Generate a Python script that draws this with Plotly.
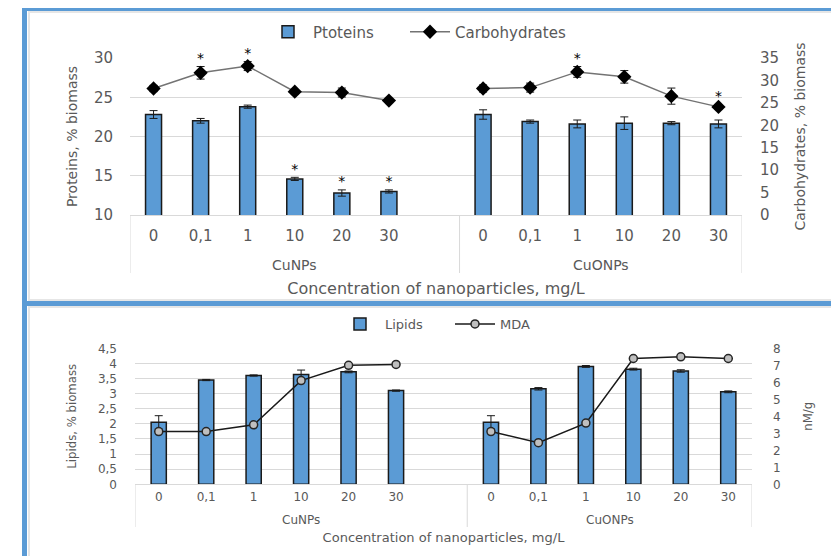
import plotly.graph_objects as go

# ---------------- data ----------------
conc_labels = ["0", "0,1", "1", "10", "20", "30"]
groups = ["CuNPs", "CuONPs"]

proteins_cunps = [22.8, 22.0, 23.8, 14.6, 12.8, 13.0]
proteins_cuonps = [22.8, 21.9, 21.6, 21.7, 21.7, 21.6]
proteins_err_cunps = [0.5, 0.3, 0.2, 0.2, 0.4, 0.2]
proteins_err_cuonps = [0.6, 0.2, 0.5, 0.8, 0.2, 0.5]
proteins_sig_cunps = ["", "", "", "*", "*", "*"]
proteins_sig_cuonps = ["", "", "", "", "", ""]

carbs_cunps = [28.2, 31.7, 33.2, 27.5, 27.3, 25.5]
carbs_cuonps = [28.2, 28.4, 31.9, 30.8, 26.5, 24.1]
carbs_err_cunps = [0.7, 1.4, 1.0, 0.5, 1.0, 0.3]
carbs_err_cuonps = [0.8, 1.0, 1.2, 1.4, 1.8, 0.5]
carbs_sig_cunps = ["", "*", "*", "", "", ""]
carbs_sig_cuonps = ["", "", "*", "", "", "*"]

lipids_cunps = [2.05, 3.45, 3.6, 3.63, 3.72, 3.1]
lipids_cuonps = [2.05, 3.16, 3.9, 3.81, 3.75, 3.06]
lipids_err_cunps = [0.22, 0.02, 0.02, 0.15, 0.03, 0.02]
lipids_err_cuonps = [0.22, 0.04, 0.03, 0.03, 0.04, 0.03]

mda_cunps = [3.1, 3.1, 3.5, 6.1, 7.0, 7.05]
mda_cuonps = [3.1, 2.45, 3.6, 7.4, 7.5, 7.4]

protein_ticks = [10, 15, 20, 25, 30]
carb_ticks = [0, 5, 10, 15, 20, 25, 30, 35]
lipid_tick_vals = [0, 0.5, 1, 1.5, 2, 2.5, 3, 3.5, 4, 4.5]
lipid_tick_text = ["0", "0,5", "1", "1,5", "2", "2,5", "3", "3,5", "4", "4,5"]
mda_ticks = [0, 1, 2, 3, 4, 5, 6, 7, 8]

# ---------------- helpers ----------------
# the page body has an 8px margin, so the figure is laid out in page pixels minus 8
OFF = 8
W, H = 839 - OFF, 556 - OFF
def px(x):
    return (x - OFF) / W
def py(y):
    return 1 - (y - OFF) / H

gap_key = groups[0] + "| "
keys_a = [groups[0] + "|" + c for c in conc_labels]
keys_b = [groups[1] + "|" + c for c in conc_labels]
keys = keys_a + [gap_key] + keys_b

def joined(a, b):
    return list(a) + [None] + list(b)

def plus(v, e):
    return [None if x is None else x + d for x, d in zip(v, e)]

GREY = "#595959"
GRID = "#d9d9d9"
BLUE = "#5b9bd5"
FONT = "DejaVu Sans"
NARROW = "Liberation Sans Narrow, DejaVu Sans Condensed, Arial Narrow, sans-serif"

fig = go.Figure()

# ---------------- top chart ----------------
fig.add_trace(go.Bar(
    x=keys, y=joined(proteins_cunps, proteins_cuonps), name="Ptoteins",
    width=0.34, marker=dict(color=BLUE, line=dict(color="#1a1a1a", width=1.5)),
    error_y=dict(type="data", array=joined(proteins_err_cunps, proteins_err_cuonps),
                 color="#1a1a1a", thickness=1, width=4),
    xaxis="x", yaxis="y", legend="legend"))
fig.add_trace(go.Scatter(
    x=keys, y=joined(carbs_cunps, carbs_cuonps), name="Carbohydrates",
    mode="lines+markers", connectgaps=False,
    line=dict(color="#737373", width=1.5),
    marker=dict(symbol="diamond", size=11, color="#000000"),
    error_y=dict(type="data", array=joined(carbs_err_cunps, carbs_err_cuonps),
                 color="#1a1a1a", thickness=1, width=4),
    xaxis="x", yaxis="y2", legend="legend3"))
fig.add_trace(go.Scatter(
    x=keys, y=plus(joined(proteins_cunps, proteins_cuonps), joined(proteins_err_cunps, proteins_err_cuonps)),
    text=joined(proteins_sig_cunps, proteins_sig_cuonps), mode="text", textposition="top center",
    textfont=dict(family=FONT, size=14, color="#000000"), cliponaxis=False,
    showlegend=False, hoverinfo="skip", xaxis="x", yaxis="y"))
fig.add_trace(go.Scatter(
    x=keys, y=plus(joined(carbs_cunps, carbs_cuonps), joined(carbs_err_cunps, carbs_err_cuonps)),
    text=joined(carbs_sig_cunps, carbs_sig_cuonps), mode="text", textposition="top center",
    textfont=dict(family=FONT, size=14, color="#000000"), cliponaxis=False,
    showlegend=False, hoverinfo="skip", xaxis="x", yaxis="y2"))

# ---------------- bottom chart ----------------
fig.add_trace(go.Bar(
    x=keys, y=joined(lipids_cunps, lipids_cuonps), name="Lipids",
    width=0.32, marker=dict(color=BLUE, line=dict(color="#1a1a1a", width=1.5)),
    error_y=dict(type="data", array=joined(lipids_err_cunps, lipids_err_cuonps),
                 color="#1a1a1a", thickness=1, width=4),
    xaxis="x2", yaxis="y3", legend="legend2"))
fig.add_trace(go.Scatter(
    x=keys, y=joined(mda_cunps, mda_cuonps), name="MDA",
    mode="lines+markers", connectgaps=False,
    line=dict(color="#1a1a1a", width=1.5),
    marker=dict(symbol="circle", size=8, color="#bfbfbf", line=dict(color="#262626", width=1.5)),
    xaxis="x2", yaxis="y4", legend="legend4"))

# ---------------- layout ----------------
tickvals_x = keys_a + keys_b
ticktext_x = conc_labels + conc_labels
xrange = [-0.5, len(keys) - 0.5]

shapes = []
# group dividers
for xv in [-0.5, 6.5, 12.5]:
    shapes.append(dict(type="line", xref="x", yref="paper", x0=xv, x1=xv,
                       y0=py(215), y1=py(273), line=dict(color=GRID, width=1)))
    shapes.append(dict(type="line", xref="x2", yref="paper", x0=xv, x1=xv,
                       y0=py(484), y1=py(527), line=dict(color=GRID, width=1)))
# frame
shapes += [
    dict(type="rect", xref="paper", yref="paper", x0=px(28), x1=px(30), y0=0, y1=py(11),
         fillcolor="#e6e6e6", line=dict(width=0)),
    dict(type="rect", xref="paper", yref="paper", x0=px(28), x1=1, y0=py(13), y1=py(11),
         fillcolor="#e6e6e6", line=dict(width=0)),
    dict(type="rect", xref="paper", yref="paper", x0=px(28), x1=1, y0=py(308), y1=py(306),
         fillcolor="#e6e6e6", line=dict(width=0)),
    dict(type="rect", xref="paper", yref="paper", x0=px(28), x1=1, y0=py(301), y1=py(299),
         fillcolor="#e6e6e6", line=dict(width=0)),
    dict(type="rect", xref="paper", yref="paper", x0=px(22), x1=px(27), y0=0, y1=1,
         fillcolor=BLUE, line=dict(width=0)),
    dict(type="rect", xref="paper", yref="paper", x0=px(22), x1=1, y0=py(11), y1=1,
         fillcolor=BLUE, line=dict(width=0)),
    dict(type="rect", xref="paper", yref="paper", x0=px(22), x1=1, y0=py(306), y1=py(301),
         fillcolor=BLUE, line=dict(width=0)),
]

annotations = [
    dict(text=groups[0], x=3, xref="x", y=py(265), yref="paper", showarrow=False,
         yanchor="middle", font=dict(family=FONT, size=14, color=GREY)),
    dict(text=groups[1], x=9.5, xref="x", y=py(265), yref="paper", showarrow=False,
         yanchor="middle", font=dict(family=FONT, size=14, color=GREY)),
    dict(text=groups[0], x=3, xref="x2", y=py(520), yref="paper", showarrow=False,
         yanchor="middle", font=dict(family=FONT, size=12, color=GREY)),
    dict(text=groups[1], x=9.5, xref="x2", y=py(520), yref="paper", showarrow=False,
         yanchor="middle", font=dict(family=FONT, size=12, color=GREY)),
]

def legend_at(xpage, ypage, size):
    return dict(orientation="h", x=px(xpage), y=py(ypage), xanchor="left", yanchor="middle",
                font=dict(size=size, color=GREY), itemwidth=40, bgcolor="rgba(0,0,0,0)")

fig.update_layout(
    width=W, height=H, margin=dict(l=0, r=0, t=0, b=0, autoexpand=False),
    paper_bgcolor="white", plot_bgcolor="white",
    font=dict(family=FONT, color=GREY),
    showlegend=True,
    xaxis=dict(domain=[px(130), px(742)], anchor="y", type="category",
               categoryorder="array", categoryarray=keys, range=xrange,
               tickmode="array", tickvals=tickvals_x, ticktext=ticktext_x,
               showline=True, linecolor=GRID, linewidth=1, ticks="", showgrid=False,
               ticklabelstandoff=7, tickfont=dict(size=15, color=GREY),
               title=dict(text="Concentration of nanoparticles, mg/L", standoff=38,
                          font=dict(size=16, color=GREY))),
    yaxis=dict(domain=[py(215), py(58)], anchor="x", range=[10, 30],
               tickmode="array", tickvals=protein_ticks,
               showgrid=True, gridcolor=GRID, zeroline=False, showline=False, ticks="",
               ticklabelstandoff=16, tickfont=dict(size=15, color=GREY),
               title=dict(text="Proteins, % biomass", standoff=13,
                          font=dict(size=14, color=GREY))),
    yaxis2=dict(overlaying="y", anchor="x", side="right", range=[0, 35],
                tickmode="array", tickvals=carb_ticks,
                showgrid=False, zeroline=False, showline=False, ticks="",
                ticklabelstandoff=17, tickfont=dict(size=15, color=GREY),
                title=dict(text="Carbohydrates, % biomass", standoff=17,
                           font=dict(size=14, color=GREY))),
    xaxis2=dict(domain=[px(135), px(752)], anchor="y3", type="category",
                categoryorder="array", categoryarray=keys, range=xrange,
                tickmode="array", tickvals=tickvals_x, ticktext=ticktext_x,
                showline=True, linecolor=GRID, linewidth=1, ticks="", showgrid=False,
                ticklabelstandoff=1, tickfont=dict(size=12, color=GREY),
                title=dict(text="Concentration of nanoparticles, mg/L", standoff=30,
                           font=dict(size=13, color=GREY))),
    yaxis3=dict(domain=[py(484.3), py(348.3)], anchor="x2", range=[0, 4.5],
                tickmode="array", tickvals=lipid_tick_vals, ticktext=lipid_tick_text,
                showgrid=True, gridcolor=GRID, zeroline=False, showline=False, ticks="",
                ticklabelstandoff=17, tickfont=dict(size=12, color=GREY),
                title=dict(text="Lipids, % biomass", standoff=18,
                           font=dict(family=NARROW, size=13, color=GREY))),
    yaxis4=dict(overlaying="y3", anchor="x2", side="right", range=[0, 8],
                tickmode="array", tickvals=mda_ticks,
                showgrid=False, zeroline=False, showline=False, ticks="",
                ticklabelstandoff=20, tickfont=dict(size=12, color=GREY),
                title=dict(text="nM/g", standoff=23,
                           font=dict(family=NARROW, size=13, color=GREY))),
    legend=legend_at(263, 32, 15),
    legend3=legend_at(405, 32, 15),
    legend2=legend_at(335, 324, 13),
    legend4=legend_at(450, 324, 13),
    shapes=shapes, annotations=annotations,
)

fig.write_html("out.html")
